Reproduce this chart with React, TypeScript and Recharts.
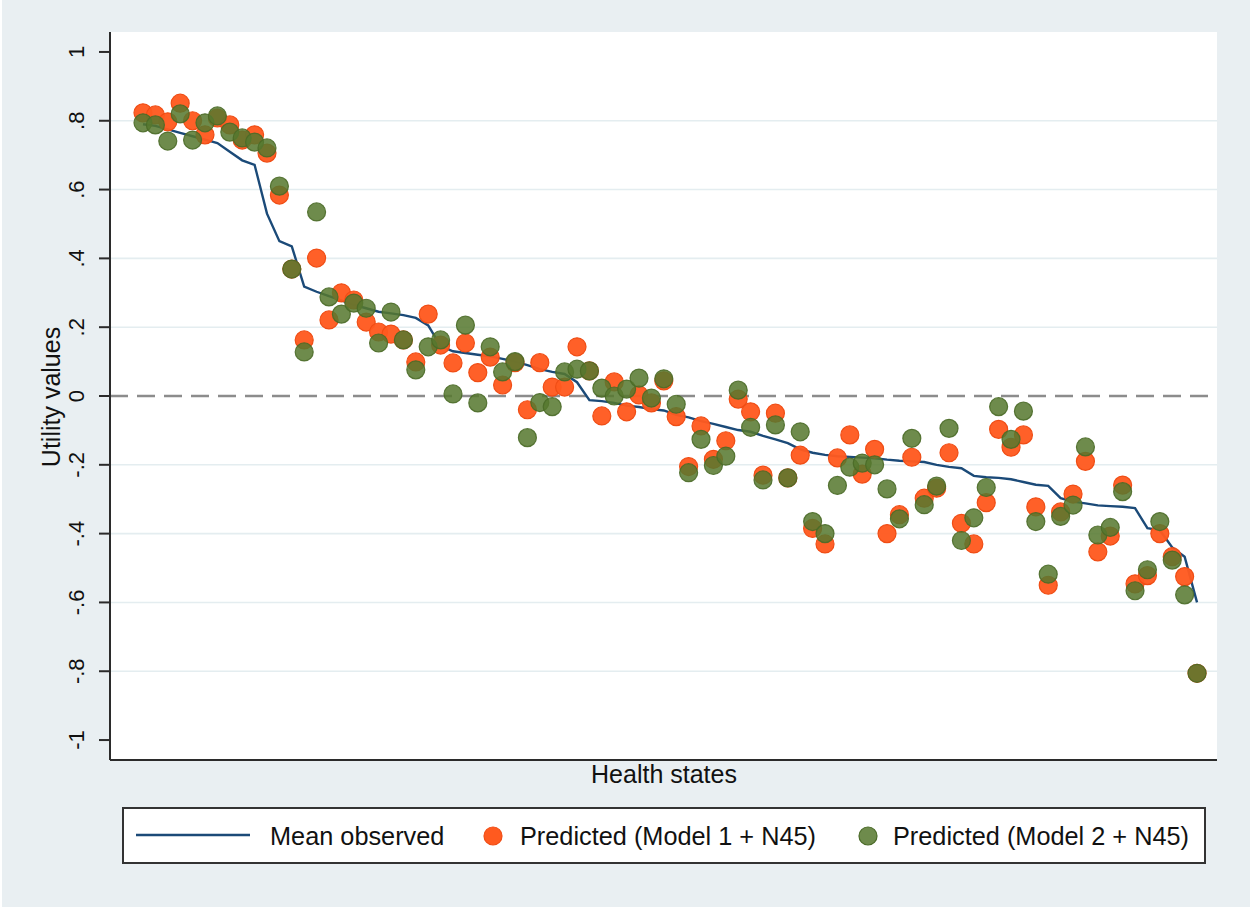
import React from 'react';
import { ComposedChart, Line, Scatter, XAxis, YAxis, ReferenceLine, CartesianGrid, Label } from 'recharts';

const meanObserved = [
  0.79, 0.785, 0.775, 0.765, 0.755, 0.745, 0.735, 0.71, 0.685, 0.672,
  0.53, 0.45, 0.435, 0.318, 0.303, 0.29, 0.278, 0.265, 0.255, 0.245,
  0.24, 0.235, 0.227, 0.205, 0.145, 0.13, 0.125, 0.12, 0.115, 0.108,
  0.1, 0.09, 0.078, 0.07, 0.064, 0.04, -0.012, -0.015, -0.02, -0.028,
  -0.032, -0.038, -0.042, -0.055, -0.062, -0.073, -0.081, -0.09, -0.099, -0.104,
  -0.116, -0.126, -0.137, -0.155, -0.165, -0.171, -0.175, -0.177, -0.179, -0.181,
  -0.185, -0.188, -0.19, -0.192, -0.2, -0.206, -0.21, -0.232, -0.236, -0.238,
  -0.242, -0.25, -0.258, -0.261, -0.297, -0.307, -0.312, -0.318, -0.32, -0.322,
  -0.326, -0.384, -0.39, -0.44, -0.467, -0.6,
];

const predictedModel1 = [
  0.823, 0.817, 0.797, 0.851, 0.8, 0.759, 0.808, 0.788, 0.744, 0.759,
  0.706, 0.584, 0.369, 0.163, 0.401, 0.221, 0.3, 0.279, 0.215, 0.186,
  0.18, 0.163, 0.099, 0.238, 0.148, 0.096, 0.154, 0.068, 0.113, 0.032,
  0.097, -0.04, 0.097, 0.026, 0.026, 0.143, 0.073, -0.058, 0.041, -0.046,
  0.003, -0.02, 0.044, -0.06, -0.205, -0.087, -0.184, -0.13, -0.009, -0.046,
  -0.23, -0.05, -0.238, -0.172, -0.385, -0.43, -0.18, -0.113, -0.227, -0.155,
  -0.4, -0.345, -0.178, -0.297, -0.268, -0.165, -0.37, -0.43, -0.31, -0.097,
  -0.149, -0.113, -0.322, -0.55, -0.337, -0.285, -0.19, -0.453, -0.407, -0.259,
  -0.546, -0.522, -0.4, -0.467, -0.525, -0.806,
];

const predictedModel2 = [
  0.794, 0.788, 0.741, 0.82, 0.744, 0.794, 0.814, 0.767, 0.75, 0.738,
  0.721, 0.61, 0.369, 0.128, 0.535, 0.288, 0.238, 0.27, 0.255, 0.154,
  0.244, 0.163, 0.076, 0.143, 0.163, 0.006, 0.206, -0.02, 0.143, 0.07,
  0.1, -0.121, -0.019, -0.031, 0.07, 0.078, 0.073, 0.023, 0.0, 0.02,
  0.052, -0.006, 0.05, -0.024, -0.223, -0.126, -0.202, -0.175, 0.017, -0.091,
  -0.244, -0.084, -0.238, -0.104, -0.365, -0.4, -0.26, -0.207, -0.195, -0.2,
  -0.27, -0.357, -0.123, -0.316, -0.262, -0.094, -0.42, -0.354, -0.266, -0.031,
  -0.126, -0.044, -0.365, -0.518, -0.35, -0.317, -0.148, -0.404, -0.382, -0.278,
  -0.566, -0.505, -0.365, -0.477, -0.578, -0.806,
];

const yTicks = [-1, -0.8, -0.6, -0.4, -0.2, 0, 0.2, 0.4, 0.6, 0.8, 1];
const yTickLabels = ['-1', '-.8', '-.6', '-.4', '-.2', '0', '.2', '.4', '.6', '.8', '1'];
const gridValues = [-0.8, -0.6, -0.4, -0.2, 0.2, 0.4, 0.6, 0.8];

const seriesNames = ['Mean observed', 'Predicted (Model 1 + N45)', 'Predicted (Model 2 + N45)'];

const data = meanObserved.map((m, i) => ({
  state: i + 1,
  mean: m,
  m1: predictedModel1[i],
  m2: predictedModel2[i],
}));

const FONT = '"Liberation Sans", Arial, Helvetica, sans-serif';
const BG = '#e9eff2';
const AXIS = '#2b2b2b';
const LINE_COLOR = '#1b4a78';
const ORANGE = '#ff5a1f';
const ORANGE_STROKE = '#f04d15';
const GREEN = '#56782e';
const GREEN_STROKE = '#4a6a27';
const R = 9;

const OrangeDot = (p: any) => (
  <circle cx={p.cx} cy={p.cy} r={R} fill={ORANGE} fillOpacity={0.96} stroke={ORANGE_STROKE} strokeWidth={1.2} />
);
const GreenDot = (p: any) => (
  <circle cx={p.cx} cy={p.cy} r={R} fill={GREEN} fillOpacity={0.86} stroke={GREEN_STROKE} strokeOpacity={0.9} strokeWidth={1.2} />
);

const renderYTick = (props: any) => {
  const { y, payload } = props;
  const idx = yTicks.findIndex((t) => Math.abs(t - payload.value) < 1e-9);
  const lx = 84;
  return (
    <text x={lx} y={y} transform={`rotate(-90 ${lx} ${y})`} textAnchor="middle" fontSize={22} fontFamily={FONT} fill="#111">
      {idx >= 0 ? yTickLabels[idx] : ''}
    </text>
  );
};

export default function App() {
  return (
    <div style={{ position: 'absolute', left: 0, top: 0, width: 1250, height: 907, background: '#ffffff' }}>
      <div style={{ position: 'absolute', left: 2, top: 0, width: 1248, height: 907, background: BG }} />
      <div style={{ position: 'absolute', left: 0, top: 0 }}>
        <ComposedChart width={1250} height={907} data={data} margin={{ top: 32, right: 33, left: 0, bottom: 0 }}>
          <CartesianGrid fill="#ffffff" fillOpacity={1} horizontal={false} vertical={false} stroke="none" />
          {gridValues.map((v) => (
            <ReferenceLine key={v} y={v} stroke="#e4edf0" strokeWidth={1.6} ifOverflow="extendDomain" />
          ))}
          <ReferenceLine y={0} stroke="#8c8c8c" strokeWidth={2.6} strokeDasharray="18 9" />
          <XAxis
            type="number"
            dataKey="state"
            domain={[-1.66, 87.61]}
            allowDataOverflow
            tick={false}
            tickLine={false}
            height={147}
            axisLine={{ stroke: AXIS, strokeWidth: 2 }}
          >
            <Label
              content={() => (
                <text x={664} y={783} textAnchor="middle" fontSize={25} fontFamily={FONT} fill="#111">
                  Health states
                </text>
              )}
            />
          </XAxis>
          <YAxis
            type="number"
            domain={[-1.058, 1.058]}
            allowDataOverflow
            ticks={yTicks}
            interval={0}
            width={110}
            tickSize={11}
            tick={renderYTick}
            axisLine={{ stroke: AXIS, strokeWidth: 2 }}
            tickLine={{ stroke: AXIS, strokeWidth: 2 }}
          >
            <Label
              content={() => (
                <text x={60} y={397} transform="rotate(-90 60 397)" textAnchor="middle" fontSize={25} fontFamily={FONT} fill="#111">
                  Utility values
                </text>
              )}
            />
          </YAxis>
          <Line type="linear" dataKey="mean" stroke={LINE_COLOR} strokeWidth={2.4} dot={false} activeDot={false} isAnimationActive={false} />
          <Scatter dataKey="m1" shape={OrangeDot} isAnimationActive={false} />
          <Scatter dataKey="m2" shape={GreenDot} isAnimationActive={false} />
        </ComposedChart>
      </div>
      <div
        style={{
          position: 'absolute',
          left: 122,
          top: 807,
          width: 1084,
          height: 57,
          boxSizing: 'border-box',
          border: '2px solid #333',
          background: '#ffffff',
        }}
      >
        <svg width={1080} height={53} style={{ position: 'absolute', left: 0, top: 0 }}>
          <line x1={12} x2={126} y1={26} y2={26} stroke={LINE_COLOR} strokeWidth={2.6} />
          <text x={146} y={36} fontSize={25.3} fontFamily={FONT} fill="#111">{seriesNames[0]}</text>
          <circle cx={369} cy={27} r={R} fill={ORANGE} stroke={ORANGE_STROKE} strokeWidth={1.2} />
          <text x={396} y={36} fontSize={25.3} fontFamily={FONT} fill="#111">{seriesNames[1]}</text>
          <circle cx={744} cy={27} r={R} fill={GREEN} fillOpacity={0.86} stroke={GREEN_STROKE} strokeWidth={1.2} />
          <text x={769} y={36} fontSize={25.3} fontFamily={FONT} fill="#111">{seriesNames[2]}</text>
        </svg>
      </div>
    </div>
  );
}
